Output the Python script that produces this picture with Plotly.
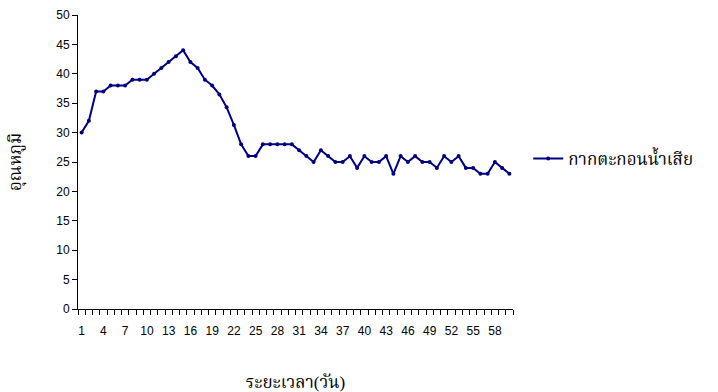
import plotly.graph_objects as go

days = list(range(1, 61))
temps = [30, 32, 37, 37, 38, 38, 38, 39, 39, 39,
         40, 41, 42, 43, 44, 42, 41, 39, 38, 36.5,
         34.3, 31.3, 28, 26, 26, 28, 28, 28, 28, 28,
         27, 26, 25, 27, 26, 25, 25, 26, 24, 26,
         25, 25, 26, 23, 26, 25, 26, 25, 25, 24,
         26, 25, 26, 24, 24, 23, 23, 25, 24, 23]
series_name = "กากตะกอนน้ำเสีย"
x_tick_labels = list(range(1, 61, 3))
y_title = "อุณหภูมิ"
x_title = "ระยะเวลา(วัน)"

serif = "Liberation Serif, Times New Roman, Noto Serif Thai, Noto Sans Thai, serif"
sans = "Liberation Sans, Arial, sans-serif"

fig = go.Figure()
fig.add_trace(go.Scatter(
    x=days, y=temps, name=series_name, mode="lines+markers",
    line=dict(color="#000080", width=2),
    marker=dict(color="#000080", size=4),
))

fig.update_layout(
    width=718, height=392,
    margin=dict(l=78, r=205, t=15, b=83),
    paper_bgcolor="white", plot_bgcolor="white",
    showlegend=True,
    legend=dict(x=1.035, xanchor="left", y=0.51, yanchor="middle",
                font=dict(family=serif, size=17, color="black"),
                bgcolor="rgba(0,0,0,0)"),
    font=dict(family=sans, size=12, color="black"),
)
fig.update_xaxes(
    automargin=False,
    range=[0.5, 60.5], tickmode="array", tickvals=x_tick_labels,
    ticktext=[str(v) for v in x_tick_labels],
    ticks="", showgrid=False, zeroline=False,
    showline=True, linecolor="black", linewidth=1,
    tickfont=dict(family=sans, size=12, color="black"),
    ticklabelstandoff=11,
    minor=dict(tickmode="linear", tick0=0.5, dtick=1, ticks="outside",
               ticklen=5, tickcolor="black", showgrid=False),
    title=dict(text=x_title, font=dict(family=serif, size=17, color="black"),
               standoff=40),
)
fig.update_yaxes(
    automargin=False,
    range=[0, 50], dtick=5, tick0=0, ticks="outside", ticklen=5,
    tickcolor="black", showgrid=False, zeroline=False,
    showline=True, linecolor="black", linewidth=1,
    tickfont=dict(family=sans, size=12, color="black"),
    title=dict(text=y_title, font=dict(family=serif, size=17, color="black"),
               standoff=30),
)

fig.write_html("out.html")
